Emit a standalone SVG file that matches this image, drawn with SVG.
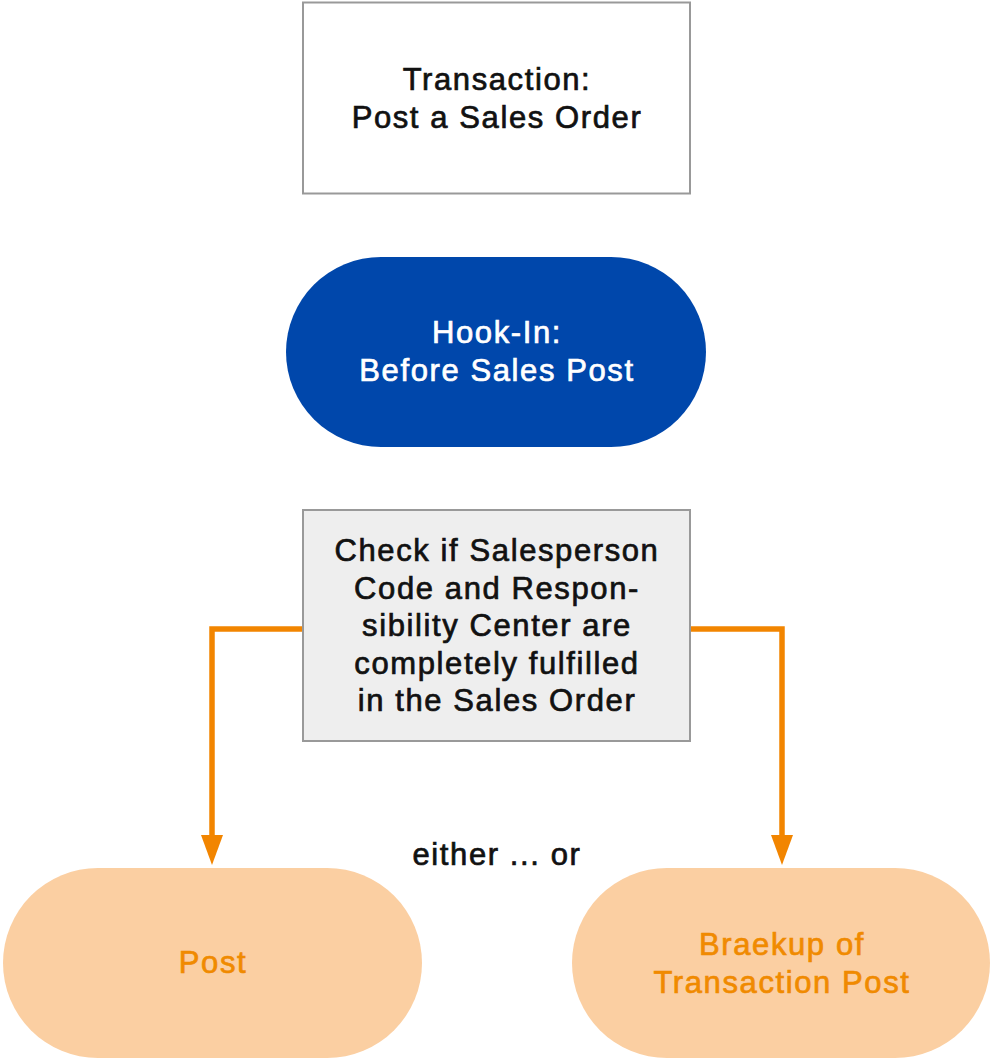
<svg xmlns="http://www.w3.org/2000/svg" width="991" height="1062" viewBox="0 0 991 1062">
  <defs>
    <style>
      .lbl { font-family: "Liberation Sans", Arial, Helvetica, sans-serif; font-size: 31px; letter-spacing: 1.6px; text-anchor: middle; stroke-width: 0.7px; paint-order: stroke; }
      .dark { fill: #111111; stroke: #111111; }
      .white { fill: #ffffff; stroke: #ffffff; }
      .orange { fill: #F08A00; stroke: #F08A00; }
      .conn { fill: none; stroke: #F28500; stroke-width: 5.5; }
    </style>
    <marker id="arrow" markerUnits="userSpaceOnUse" markerWidth="30" markerHeight="22" viewBox="0 0 30 22" refX="2" refY="11" orient="auto">
      <path d="M0,0 L30,11 L0,22 z" fill="#F28500"/>
    </marker>
  </defs>
  <rect width="991" height="1062" fill="#ffffff"/>

  <g id="connectors">
    <path class="conn" d="M303,629 H212 V837" marker-end="url(#arrow)"/>
    <path class="conn" d="M690,629 H782 V837" marker-end="url(#arrow)"/>
  </g>

  <g id="transaction">
    <rect x="303" y="2.5" width="387" height="191" fill="#ffffff" stroke="#999999" stroke-width="2"/>
    <text class="lbl dark" x="497" y="90">Transaction:</text>
    <text class="lbl dark" x="497" y="128">Post a Sales Order</text>
  </g>

  <g id="hookin">
    <rect x="286" y="257" width="420" height="190" rx="95" ry="95" fill="#0047AB"/>
    <text class="lbl white" x="497" y="343">Hook-In:</text>
    <text class="lbl white" x="497" y="381">Before Sales Post</text>
  </g>

  <g id="check">
    <rect x="303" y="510" width="387" height="231" fill="#EEEEEE" stroke="#999999" stroke-width="2"/>
    <text class="lbl dark" x="497" y="561">Check if Salesperson</text>
    <text class="lbl dark" x="497" y="598.5">Code and Respon-</text>
    <text class="lbl dark" x="497" y="636">sibility Center are</text>
    <text class="lbl dark" x="497" y="673.5">completely fulfilled</text>
    <text class="lbl dark" x="497" y="711">in the Sales Order</text>
  </g>

  <g id="either-or">
    <text class="lbl dark" x="497" y="865">either ... or</text>
  </g>

  <g id="post">
    <rect x="3" y="868" width="419" height="190" rx="95" ry="95" fill="#FBCFA2"/>
    <text class="lbl orange" x="213" y="973">Post</text>
  </g>

  <g id="breakup">
    <rect x="572" y="868" width="418" height="190" rx="95" ry="95" fill="#FBCFA2"/>
    <text class="lbl orange" x="782" y="955">Braekup of</text>
    <text class="lbl orange" x="782" y="993">Transaction Post</text>
  </g>
</svg>
